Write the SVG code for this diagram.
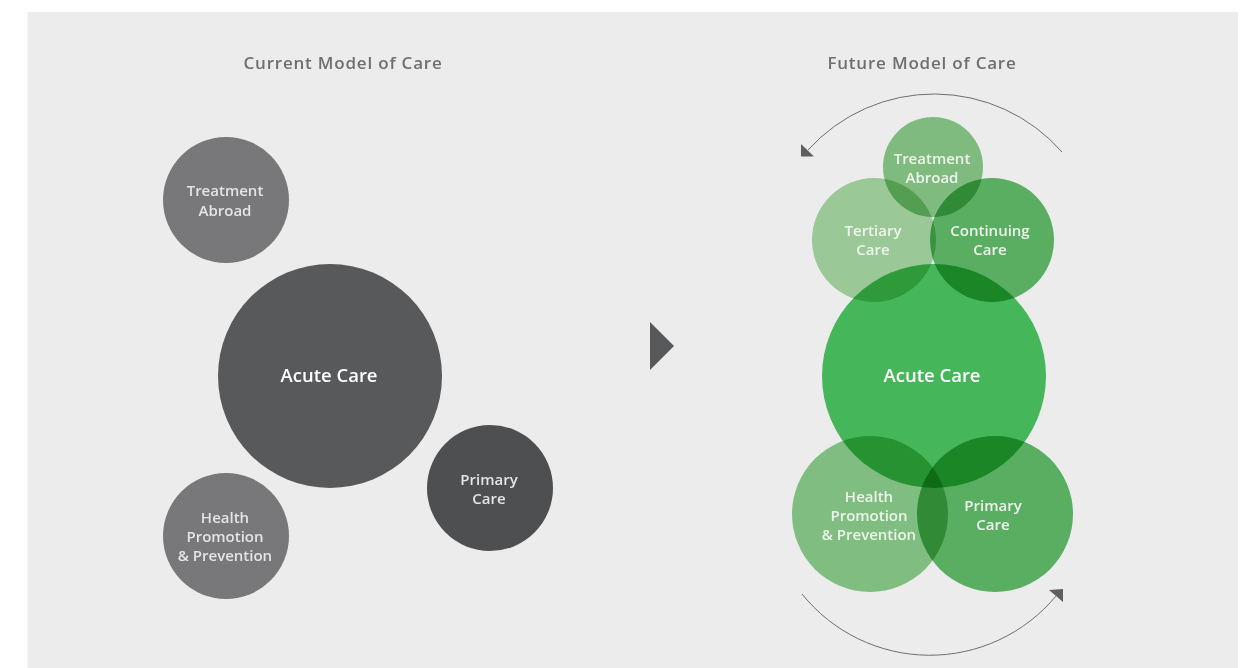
<svg xmlns="http://www.w3.org/2000/svg" width="1253" height="668" viewBox="0 0 1253 668">
  <style>
    .title { font-family: "Open Sans", "Noto Sans", sans-serif; font-weight: 600; font-size: 17px; letter-spacing: 0.8px; fill: #6d6f71; text-anchor: middle; }
    .lbl { font-family: "Open Sans", "Noto Sans", sans-serif; font-weight: 600; font-size: 15px; text-anchor: middle; }
    .big { font-size: 18.5px; }
    .grey-lbl { fill: #e4e4e5; }
    .green-lbl { fill: #eef5ec; }
    .blend { mix-blend-mode: multiply; }
    .flow { fill: none; stroke: #6d6e70; stroke-width: 1; }
    .head { fill: #5d5f61; }
  </style>

  <rect x="0" y="0" width="1253" height="668" fill="#ffffff"/>
  <rect x="27.5" y="12" width="1210.5" height="656" fill="#ececec"/>

  <text class="title" x="343" y="69">Current Model of Care</text>
  <text class="title" x="922" y="69">Future Model of Care</text>

  <!-- current model -->
  <g id="cur-treatment">
    <circle cx="226" cy="200" r="63" fill="#78787b"/>
    <text class="lbl grey-lbl" x="225" y="196">Treatment</text>
    <text class="lbl grey-lbl" x="225" y="216">Abroad</text>
  </g>
  <g id="cur-acute">
    <circle cx="330" cy="376" r="112" fill="#58595b"/>
    <text class="lbl big" x="329" y="382" fill="#ffffff">Acute Care</text>
  </g>
  <g id="cur-primary">
    <circle cx="490" cy="488" r="63" fill="#4e4f51"/>
    <text class="lbl grey-lbl" x="489" y="485">Primary</text>
    <text class="lbl grey-lbl" x="489" y="504">Care</text>
  </g>
  <g id="cur-health">
    <circle cx="226" cy="536" r="63" fill="#78787b"/>
    <text class="lbl grey-lbl" x="225" y="523">Health</text>
    <text class="lbl grey-lbl" x="225" y="542">Promotion</text>
    <text class="lbl grey-lbl" x="225" y="561">&amp; Prevention</text>
  </g>

  <!-- transition marker -->
  <polygon points="650,322 674,346 650,370" fill="#58595b"/>

  <!-- future model: overlapping circles -->
  <g id="fut-treatment">
    <circle class="blend" cx="933" cy="167" r="50" fill="#89ca89"/>
  </g>
  <g id="fut-tertiary">
    <circle class="blend" cx="874" cy="240" r="62" fill="#a7d8a3"/>
  </g>
  <g id="fut-continuing">
    <circle class="blend" cx="992" cy="240" r="62" fill="#61bc6a"/>
  </g>
  <g id="fut-acute">
    <circle class="blend" cx="934" cy="376" r="112" fill="#4bc561"/>
  </g>
  <g id="fut-health">
    <circle class="blend" cx="870" cy="514" r="78" fill="#8acc8b"/>
  </g>
  <g id="fut-primary">
    <circle class="blend" cx="995" cy="514" r="78" fill="#61bc6a"/>
  </g>

  <!-- future model labels -->
  <g id="fut-labels">
    <text class="lbl green-lbl" x="932" y="164">Treatment</text>
    <text class="lbl green-lbl" x="932" y="183">Abroad</text>
    <text class="lbl green-lbl" x="873" y="236">Tertiary</text>
    <text class="lbl green-lbl" x="873" y="255">Care</text>
    <text class="lbl green-lbl" x="990" y="236">Continuing</text>
    <text class="lbl green-lbl" x="990" y="255">Care</text>
    <text class="lbl big" x="932" y="382" fill="#ffffff">Acute Care</text>
    <text class="lbl green-lbl" x="869" y="502">Health</text>
    <text class="lbl green-lbl" x="869" y="521">Promotion</text>
    <text class="lbl green-lbl" x="869" y="540">&amp; Prevention</text>
    <text class="lbl green-lbl" x="993" y="511">Primary</text>
    <text class="lbl green-lbl" x="993" y="530">Care</text>
  </g>

  <!-- cycle arrows -->
  <g id="connectors">
    <path class="flow" d="M1062,152 A170,170 0 0 0 808,150"/>
    <polygon class="head" points="801,144 801,156.5 814,156.5"/>
    <path class="flow" d="M802,594 A164,164 0 0 0 1056,596"/>
    <polygon class="head" points="1049,590 1063,589 1063,602"/>
  </g>
</svg>
